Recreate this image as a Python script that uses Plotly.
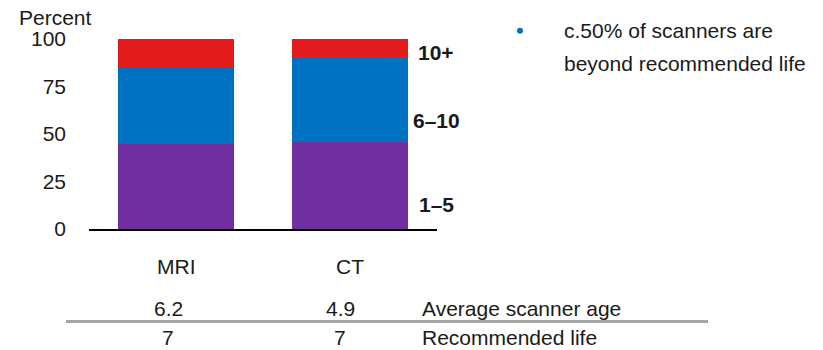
import plotly.graph_objects as go

categories = ["MRI", "CT"]
age_1_5 = [45, 46]
age_6_10 = [40, 44]
age_10_plus = [15, 10]
series_names = ["1–5", "6–10", "10+"]
avg_age = ["6.2", "4.9"]
rec_life = ["7", "7"]
row_labels = ["Average scanner age", "Recommended life"]
note_lines = ["c.50% of scanners are", "beyond recommended life"]
y_ticks = [0, 25, 50, 75, 100]

OFF = 8  # page body margin
W, H = 823 - OFF, 350 - OFF
PL, PR, PT, PB = 89, 437, 39, 229  # plot area in reference pixels
ML, MT = PL - OFF, PT - OFF
MR = W - (PR - OFF)
MB = H - (PB - OFF)
PW, PH = PR - PL, PB - PT


def px(x):
    return (x - PL) / PW


def py(y):
    return (PB - y) / PH


FONT = "Liberation Sans, Arial, sans-serif"
TXT = "#1a1a1a"
colors = ["#7030A0", "#0070C0", "#E31B1C"]

fig = go.Figure()
for name, vals, col in zip(series_names, [age_1_5, age_6_10, age_10_plus], colors):
    fig.add_trace(go.Bar(x=categories, y=vals, name=name, marker=dict(color=col, line=dict(width=0)),
                         width=0.667, showlegend=False, hoverinfo="x+y+name"))

fig.update_layout(
    barmode="stack",
    width=W, height=H,
    margin=dict(l=ML, r=MR, t=MT, b=MB, autoexpand=False),
    plot_bgcolor="white", paper_bgcolor="white",
    font=dict(family=FONT, size=21, color=TXT),
    xaxis=dict(range=[-0.5, 1.5], showline=True, linecolor="black", linewidth=2,
               showticklabels=False, ticks="", showgrid=False, zeroline=False, fixedrange=True),
    yaxis=dict(range=[0, 100], tickvals=y_ticks, showgrid=False, zeroline=False, showline=False,
               ticks="", ticklabelstandoff=22, tickfont=dict(size=21, color=TXT), fixedrange=True),
)

ann = []
ann.append(dict(text="Percent", xref="paper", yref="paper", x=px(17), y=py(17),
                xanchor="left", yanchor="middle", showarrow=False))
for c in categories:
    ann.append(dict(text=c, xref="x", yref="paper", x=c, y=py(266),
                    xanchor="center", yanchor="middle", showarrow=False))
for name, yv in zip(series_names, [13, 57, 93]):
    ann.append(dict(text=f"<b>{name}</b>", xref="paper", yref="y", x=px(436), y=yv,
                    xanchor="center", yanchor="middle", showarrow=False))
col_x = [168, 340]
for i in range(len(categories)):
    ann.append(dict(text=avg_age[i], xref="paper", yref="paper", x=px(col_x[i]), y=py(308),
                    xanchor="center", yanchor="middle", showarrow=False))
    ann.append(dict(text=rec_life[i], xref="paper", yref="paper", x=px(col_x[i]), y=py(337.5),
                    xanchor="center", yanchor="middle", showarrow=False))
for lab, yy in zip(row_labels, [308, 337.5]):
    ann.append(dict(text=lab, xref="paper", yref="paper", x=px(420), y=py(yy),
                    xanchor="left", yanchor="middle", showarrow=False))
for line, yy in zip(note_lines, [30.7, 63.3]):
    ann.append(dict(text=line, xref="paper", yref="paper", x=px(562), y=py(yy),
                    xanchor="left", yanchor="middle", showarrow=False))
fig.update_layout(annotations=ann)

shapes = [
    dict(type="line", xref="paper", yref="paper", x0=px(66), x1=px(708), y0=py(321.5), y1=py(321.5),
         line=dict(color="#A6A6A6", width=3)),
    dict(type="circle", xref="paper", yref="paper", x0=px(517), x1=px(523), y0=py(27.7), y1=py(33.7),
         fillcolor="#0070C0", line=dict(width=0)),
]
fig.update_layout(shapes=shapes)

fig.write_html("out.html")
